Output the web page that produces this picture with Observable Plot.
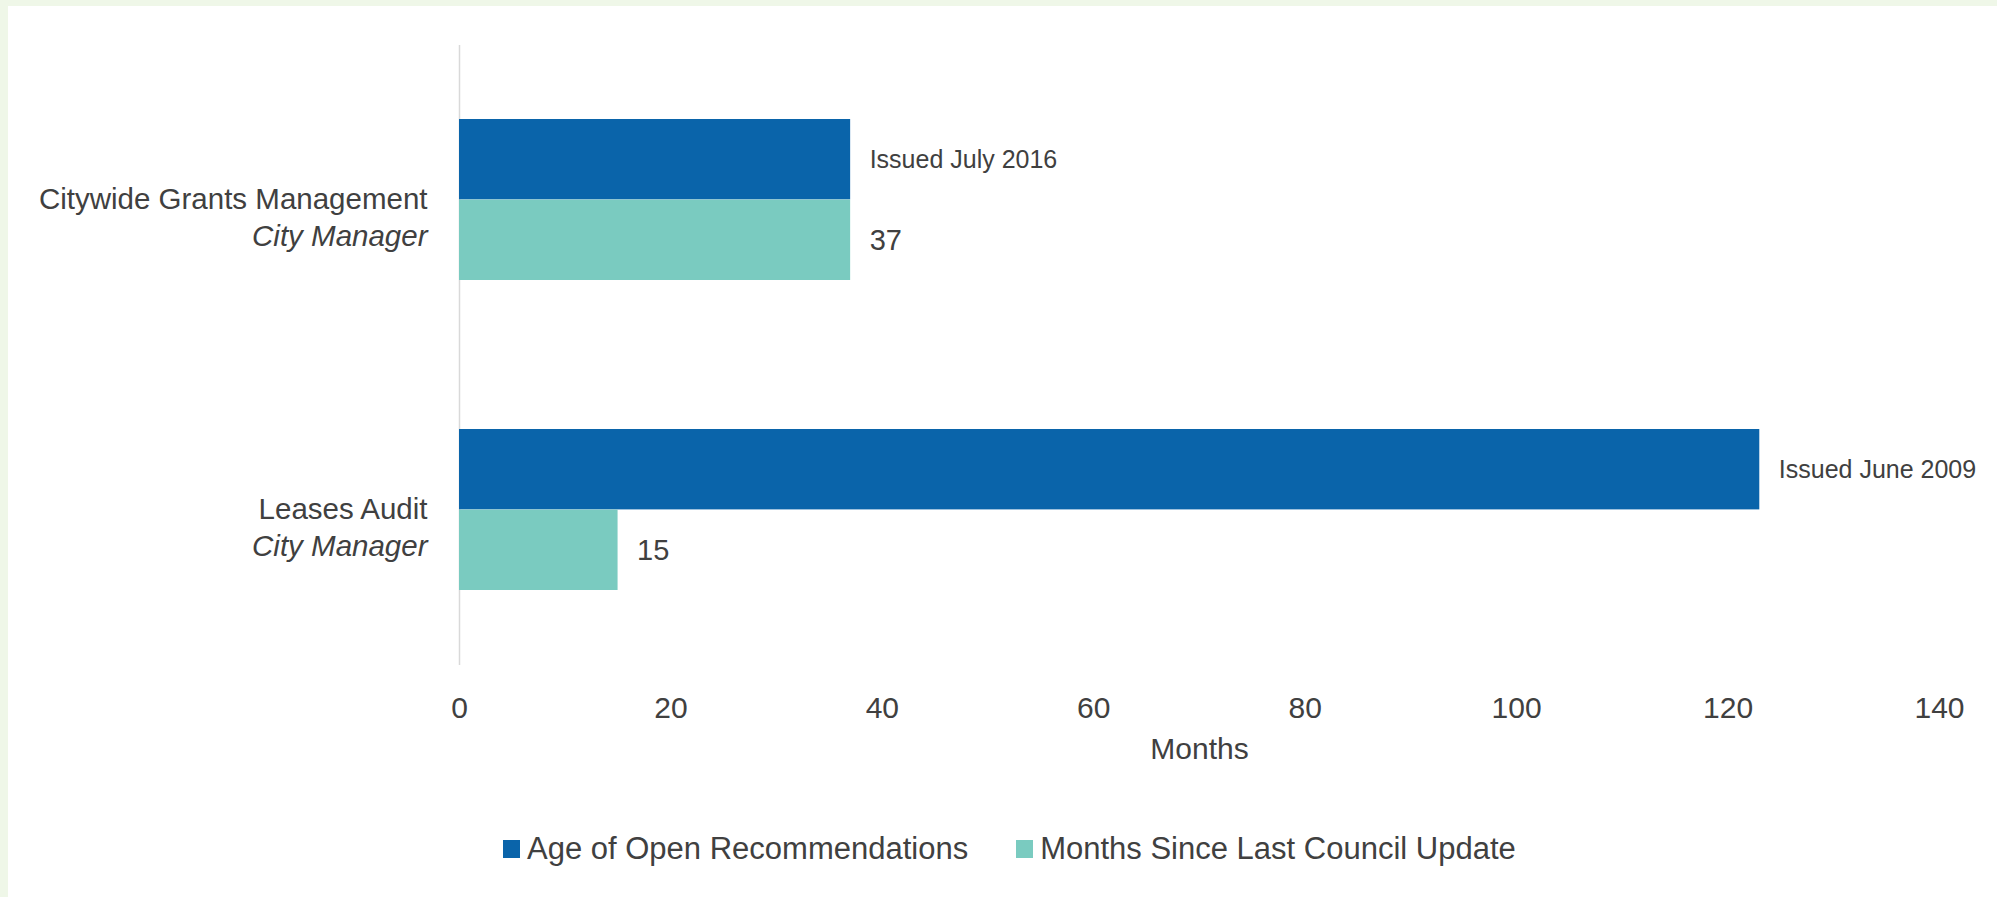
<!DOCTYPE html>
<html>
<head>
<meta charset="utf-8">
<script src="https://cdn.jsdelivr.net/npm/d3@7"></script>
<script src="https://cdn.jsdelivr.net/npm/@observablehq/plot@0.6"></script>
<style>
  html, body { margin: 0; padding: 0; background: #ffffff; }
  #wrap {
    position: relative; width: 1997px; height: 897px; box-sizing: border-box;
    border-top: 6px solid #eff7e8; border-left: 8px solid #eff7e8;
    background: #ffffff; overflow: hidden;
    font-family: "Liberation Sans", Arial, sans-serif; color: #404040;
  }
  #chart { position: absolute; left: 0; top: 0; }
  #legend {
    position: absolute; left: 495px; top: 823px; height: 40px;
    display: flex; align-items: center; gap: 48px; font-size: 31px;
  }
  .item { display: flex; align-items: center; gap: 7px; white-space: nowrap; }
  .sw { width: 17px; height: 18px; display: inline-block; }
</style>
</head>
<body>
<div id="wrap">
  <div id="chart"></div>
  <div id="legend"></div>
</div>
<script>
const groups = ["Citywide Grants Management", "Leases Audit"];
const owners = ["City Manager", "City Manager"];
const ageMonths = [37, 123];
const sinceUpdate = [37, 15];
const issuedLabels = ["Issued July 2016", "Issued June 2009"];
const xTicks = [0, 20, 40, 60, 80, 100, 120, 140];
const seriesNames = ["Age of Open Recommendations", "Months Since Last Council Update"];
const seriesColors = ["#0a64aa", "#7acbc0"];
const axisTitle = "Months";

const data = groups.map((g, i) => ({
  group: g, owner: owners[i], age: ageMonths[i], since: sinceUpdate[i], issued: issuedLabels[i]
}));

const W = 1989, H = 790, mT = 39, mB = 131, mL = 451, mR = 58;
const pIn = 0.48, pOut = 0.24;
const step = (H - mT - mB) / (groups.length - pIn + 2 * pOut);
const bw = step * (1 - pIn);
const textColor = "#404040";

const chart = Plot.plot({
  width: W, height: H,
  marginTop: mT, marginBottom: mB, marginLeft: mL, marginRight: mR,
  style: { fontFamily: "'Liberation Sans', Arial, sans-serif", fontSize: "30px", color: textColor, background: "transparent", overflow: "visible" },
  x: { domain: [0, 140], ticks: xTicks, tickSize: 0, tickPadding: 31, label: null, tickFormat: d => String(d) },
  y: { domain: groups, paddingInner: pIn, paddingOuter: pOut, axis: null },
  marks: [
    Plot.ruleX([0], { stroke: "#d9d9d9", strokeWidth: 1.5 }),
    Plot.barX(data, { y: "group", x: "age", fill: seriesColors[0], insetBottom: bw / 2 }),
    Plot.barX(data, { y: "group", x: "since", fill: seriesColors[1], insetTop: bw / 2 }),
    Plot.text(data, { y: "group", x: "age", text: "issued", dx: 19, dy: -bw / 4, textAnchor: "start", fontSize: 25, fill: textColor }),
    Plot.text(data, { y: "group", x: "since", text: d => String(d.since), dx: 19, dy: bw / 4, textAnchor: "start", fontSize: 29, fill: textColor }),
    Plot.text(data, { y: "group", frameAnchor: "left", text: "group", dx: -32, textAnchor: "end", fontSize: 29.5, fill: textColor }),
    Plot.text(data, { y: "group", frameAnchor: "left", text: "owner", dx: -32, dy: 37, textAnchor: "end", fontSize: 29.5, fontStyle: "italic", fill: textColor }),
    Plot.text([axisTitle], { frameAnchor: "bottom", dy: 93, fontSize: 30, fill: textColor })
  ]
});
document.getElementById("chart").appendChild(chart);

const legend = document.getElementById("legend");
seriesNames.forEach((name, i) => {
  const item = document.createElement("div");
  item.className = "item";
  const sw = document.createElement("span");
  sw.className = "sw";
  sw.style.background = seriesColors[i];
  const lab = document.createElement("span");
  lab.textContent = name;
  item.appendChild(sw);
  item.appendChild(lab);
  legend.appendChild(item);
});
</script>
</body>
</html>
